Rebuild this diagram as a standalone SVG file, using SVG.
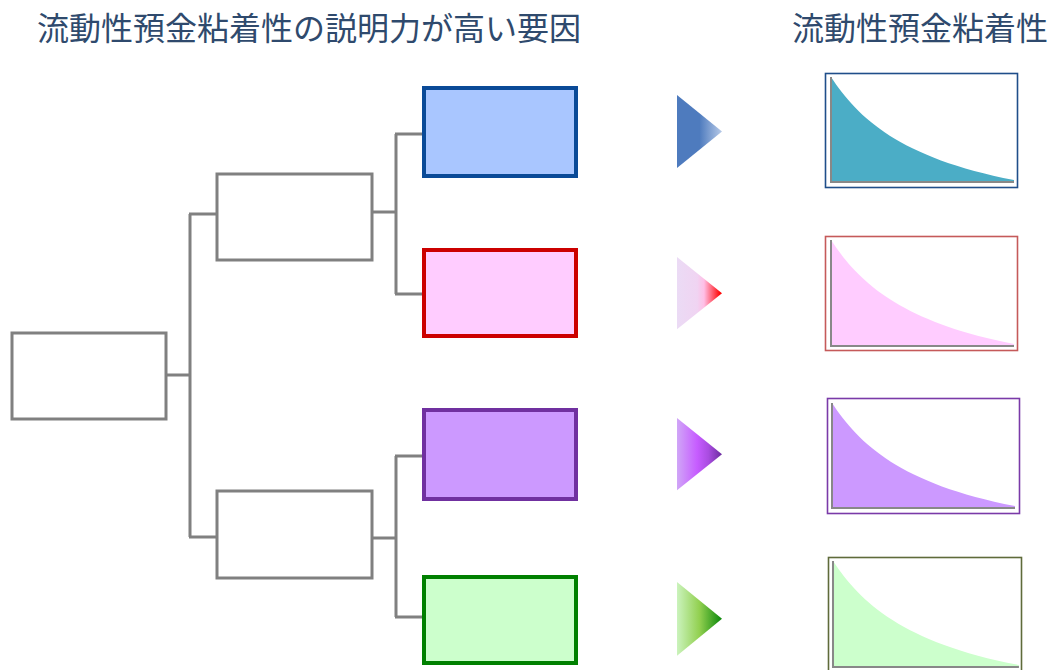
<svg xmlns="http://www.w3.org/2000/svg" xmlns:xlink="http://www.w3.org/1999/xlink" width="1054" height="670" viewBox="0 0 1054 670">
<style>
.title{font-family:"Liberation Serif","Noto Sans CJK JP",serif;font-size:32px;fill:#2f4a6d}
.plain{fill:#ffffff;stroke:#808080;stroke-width:3}
.conn{fill:none;stroke:#808080;stroke-width:3}
.factor{stroke-width:4}
.axis{fill:none;stroke:#888888;stroke-width:2}
.frame{fill:#ffffff;stroke-width:1.6}
</style>
<defs>
<linearGradient id="gBlue" x1="0" y1="0" x2="1" y2="0">
<stop offset="0" stop-color="#4e7bbe"/><stop offset="0.5" stop-color="#4e7bbe"/><stop offset="1" stop-color="#b7cae8"/>
</linearGradient>
<linearGradient id="gRed" x1="0" y1="0" x2="1" y2="0">
<stop offset="0" stop-color="#ebdbf5"/><stop offset="0.45" stop-color="#f0d4f2"/><stop offset="0.6" stop-color="#ffbfe6"/><stop offset="0.95" stop-color="#ff0a0a"/><stop offset="1" stop-color="#ff0000"/>
</linearGradient>
<linearGradient id="gPurple" x1="0" y1="0" x2="1" y2="0">
<stop offset="0" stop-color="#d0a6f7"/><stop offset="0.45" stop-color="#c65cff"/><stop offset="0.7" stop-color="#a94ce0"/><stop offset="1" stop-color="#6a2c9e"/>
</linearGradient>
<linearGradient id="gGreen" x1="0" y1="0" x2="1" y2="0">
<stop offset="0" stop-color="#cbf3bd"/><stop offset="0.5" stop-color="#92d050"/><stop offset="1" stop-color="#0a870a"/>
</linearGradient>
<path id="area" d="M0,-105 C27,-64 69,-24 183,-2 L183,0 L0,0 Z"/>
<path id="axes" d="M0,-105 V0 H183"/>
<path id="tri" d="M0,0 L45,36.5 L0,73 Z"/>
</defs>

<text class="title" x="37" y="40">流動性預金粘着性の説明力が高い要因</text>
<text class="title" x="792" y="40">流動性預金粘着性</text>

<g id="connectors">
<path class="conn" d="M166,375 H190 M190,214 V537 M189,214 H217 M189,537 H217"/>
<path class="conn" d="M372,212 H396 M396,134 V294 M395,134 H422 M395,294 H422"/>
<path class="conn" d="M372,538 H396 M396,456 V617 M395,456 H422 M395,617 H422"/>
</g>

<g id="root"><rect class="plain" x="12" y="333" width="154" height="86"/></g>
<g id="mid-upper"><rect class="plain" x="217" y="174" width="155" height="86"/></g>
<g id="mid-lower"><rect class="plain" x="217" y="491" width="155" height="87"/></g>

<g id="factor-blue"><rect class="factor" x="424" y="88" width="152" height="88" fill="#a9c6ff" stroke="#0a4a97"/></g>
<g id="factor-red"><rect class="factor" x="424" y="250" width="152" height="86" fill="#ffccff" stroke="#cc0000"/></g>
<g id="factor-purple"><rect class="factor" x="424" y="410" width="152" height="89" fill="#cc99ff" stroke="#7030a0"/></g>
<g id="factor-green"><rect class="factor" x="424" y="577" width="152" height="86" fill="#ccffcc" stroke="#008000"/></g>

<g id="arrow-blue"><use xlink:href="#tri" href="#tri" transform="translate(677,95)" fill="url(#gBlue)"/></g>
<g id="arrow-red"><use xlink:href="#tri" href="#tri" transform="translate(677,257) scale(1,0.99)" fill="url(#gRed)"/></g>
<g id="arrow-purple"><use xlink:href="#tri" href="#tri" transform="translate(677,418) scale(1,0.99)" fill="url(#gPurple)"/></g>
<g id="arrow-green"><use xlink:href="#tri" href="#tri" transform="translate(677,582) scale(1,1.01)" fill="url(#gGreen)"/></g>

<g id="chart-blue">
<rect class="frame" x="825.5" y="73.5" width="192" height="114" stroke="#1f4e8a"/>
<use xlink:href="#area" href="#area" transform="translate(831,182)" fill="#4badc6"/>
<use xlink:href="#axes" href="#axes" class="axis" transform="translate(831,182)"/>
</g>
<g id="chart-red">
<rect class="frame" x="825.5" y="236.5" width="192" height="114" stroke="#c55a5a"/>
<use xlink:href="#area" href="#area" transform="translate(831,346) scale(1,1.01)" fill="#ffccff"/>
<use xlink:href="#axes" href="#axes" class="axis" transform="translate(831,346) scale(1,1.01)"/>
</g>
<g id="chart-purple">
<rect class="frame" x="827.5" y="398.5" width="192" height="115" stroke="#7a3aa8"/>
<use xlink:href="#area" href="#area" transform="translate(832,508)" fill="#cc99ff"/>
<use xlink:href="#axes" href="#axes" class="axis" transform="translate(832,508)"/>
</g>
<g id="chart-green">
<rect class="frame" x="828.5" y="557.5" width="193" height="116" stroke="#5f6b3a"/>
<use xlink:href="#area" href="#area" transform="translate(833,667) scale(1.016,1.01)" fill="#ccffcc"/>
<use xlink:href="#axes" href="#axes" class="axis" transform="translate(833,667) scale(1.016,1.01)"/>
</g>
</svg>
